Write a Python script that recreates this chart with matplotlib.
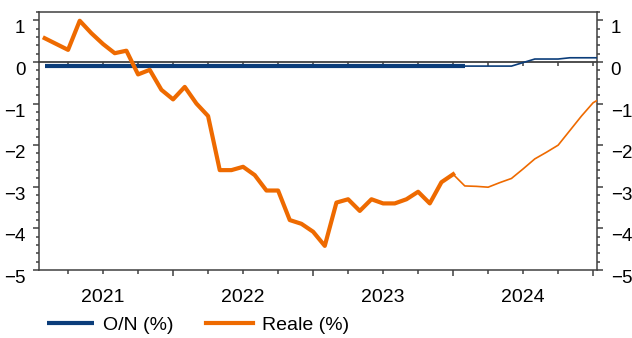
import numpy as np
import matplotlib
matplotlib.use("Agg")
import matplotlib.pyplot as plt
from matplotlib.ticker import MultipleLocator, FixedLocator, NullFormatter

plt.rcParams['font.family'] = ['Liberation Sans', 'DejaVu Sans']

# months counted from start of 2021 (month-end positions)
months = np.arange(1, 50)

# O/N rate (%) - actual part then projected part
on_rate = np.array([-0.10] * 41 + [-0.015, 0.07, 0.07, 0.07, 0.10, 0.10, 0.10, 0.10])

# real rate (%)
reale = np.array([0.57, 0.43, 0.29, 0.99, 0.69, 0.43, 0.21, 0.27, -0.30, -0.19,
                  -0.67, -0.90, -0.60, -1.00, -1.30, -2.60, -2.60, -2.52, -2.72, -3.09,
                  -3.09, -3.80, -3.89, -4.08, -4.42, -3.38, -3.30, -3.58, -3.30, -3.40,
                  -3.40, -3.30, -3.12, -3.40, -2.89, -2.70, -2.98, -2.99, -3.01, -2.90,
                  -2.80, -2.57, -2.33, -2.17, -2.00, -1.65, -1.30, -0.98, -0.82])

on_actual_end = 37     # last month of thick O/N line
reale_actual_end = 36  # last month of thick Reale line

years = ['2021', '2022', '2023', '2024']

blue = '#0b3d7a'
orange = '#ee6a00'
axis_col = '#404040'
fs = 14

fig = plt.figure(figsize=(6.32, 3.38), dpi=100)
ax = fig.add_axes([39 / 632, 1 - 270 / 338, (597 - 39) / 632, (270 - 12) / 338])

m_on = months <= on_actual_end
m_on_f = months >= on_actual_end
m_re = months <= reale_actual_end
m_re_f = months >= reale_actual_end

ax.plot(months[m_on], on_rate[m_on], color=blue, lw=3.0, solid_capstyle='butt', zorder=3, label='O/N (%)')
ax.plot(months[m_on_f], on_rate[m_on_f], color=blue, lw=1.2, zorder=3)
ax.plot(months[m_re], reale[m_re], color=orange, lw=3.0, zorder=4, label='Reale (%)')
ax.plot(months[m_re_f], reale[m_re_f], color=orange, lw=1.2, zorder=4)

ax.set_xlim(0.51, 48.33)
ax.set_ylim(-5, 1.2)

for s in ax.spines.values():
    s.set_color(axis_col)
    s.set_linewidth(1.1)

# y axis on both sides
ax.yaxis.set_major_locator(MultipleLocator(1))
ax.yaxis.set_minor_locator(MultipleLocator(0.2))
ax.tick_params(axis='y', which='both', left=True, right=True, labelleft=True, labelright=True,
               direction='out', colors=axis_col, labelcolor='black', labelsize=13.5)
ax.tick_params(axis='y', which='major', length=4.3, width=1.1, pad=5.5)
ax.tick_params(axis='y', which='minor', length=2.2, width=1.1)
for t in ax.yaxis.get_major_ticks():
    t.label1.set_va('top')
    t.label2.set_va('top')

# x axis: quarter ticks, year labels centred
ax.xaxis.set_major_locator(FixedLocator([12, 24, 36, 48]))
ax.xaxis.set_minor_locator(FixedLocator([m for m in range(3, 49, 3) if m % 12 != 0]))
ax.xaxis.set_major_formatter(NullFormatter())
ax.tick_params(axis='x', which='major', length=4.3, width=1.1, colors=axis_col, direction='out')
ax.tick_params(axis='x', which='minor', length=2.9, width=1.1, colors=axis_col, direction='out')
for i, yr in enumerate(years):
    ax.text(6 + 12 * i, -19 / 258, yr, transform=ax.get_xaxis_transform(),
            ha='center', va='top', fontsize=fs)

# zero line with its own ticks
sec = ax.secondary_xaxis(5 / 6.2)
sec.set_xticks([m for m in range(3, 49, 3)])
sec.set_xticklabels([])
sec.spines['top'].set_color(axis_col)
sec.spines['top'].set_linewidth(1.3)
sec.spines['bottom'].set_visible(False)
sec.tick_params(axis='x', direction='in', length=3, width=1.1, colors=axis_col)

leg = fig.legend(loc='center left', bbox_to_anchor=(47 / 632, 1 - 325 / 338), ncol=2,
                 frameon=False, fontsize=fs, handlelength=2.4, handletextpad=0.46,
                 columnspacing=1.7, borderaxespad=0, borderpad=0)

fig.savefig('out.png', dpi=100)
